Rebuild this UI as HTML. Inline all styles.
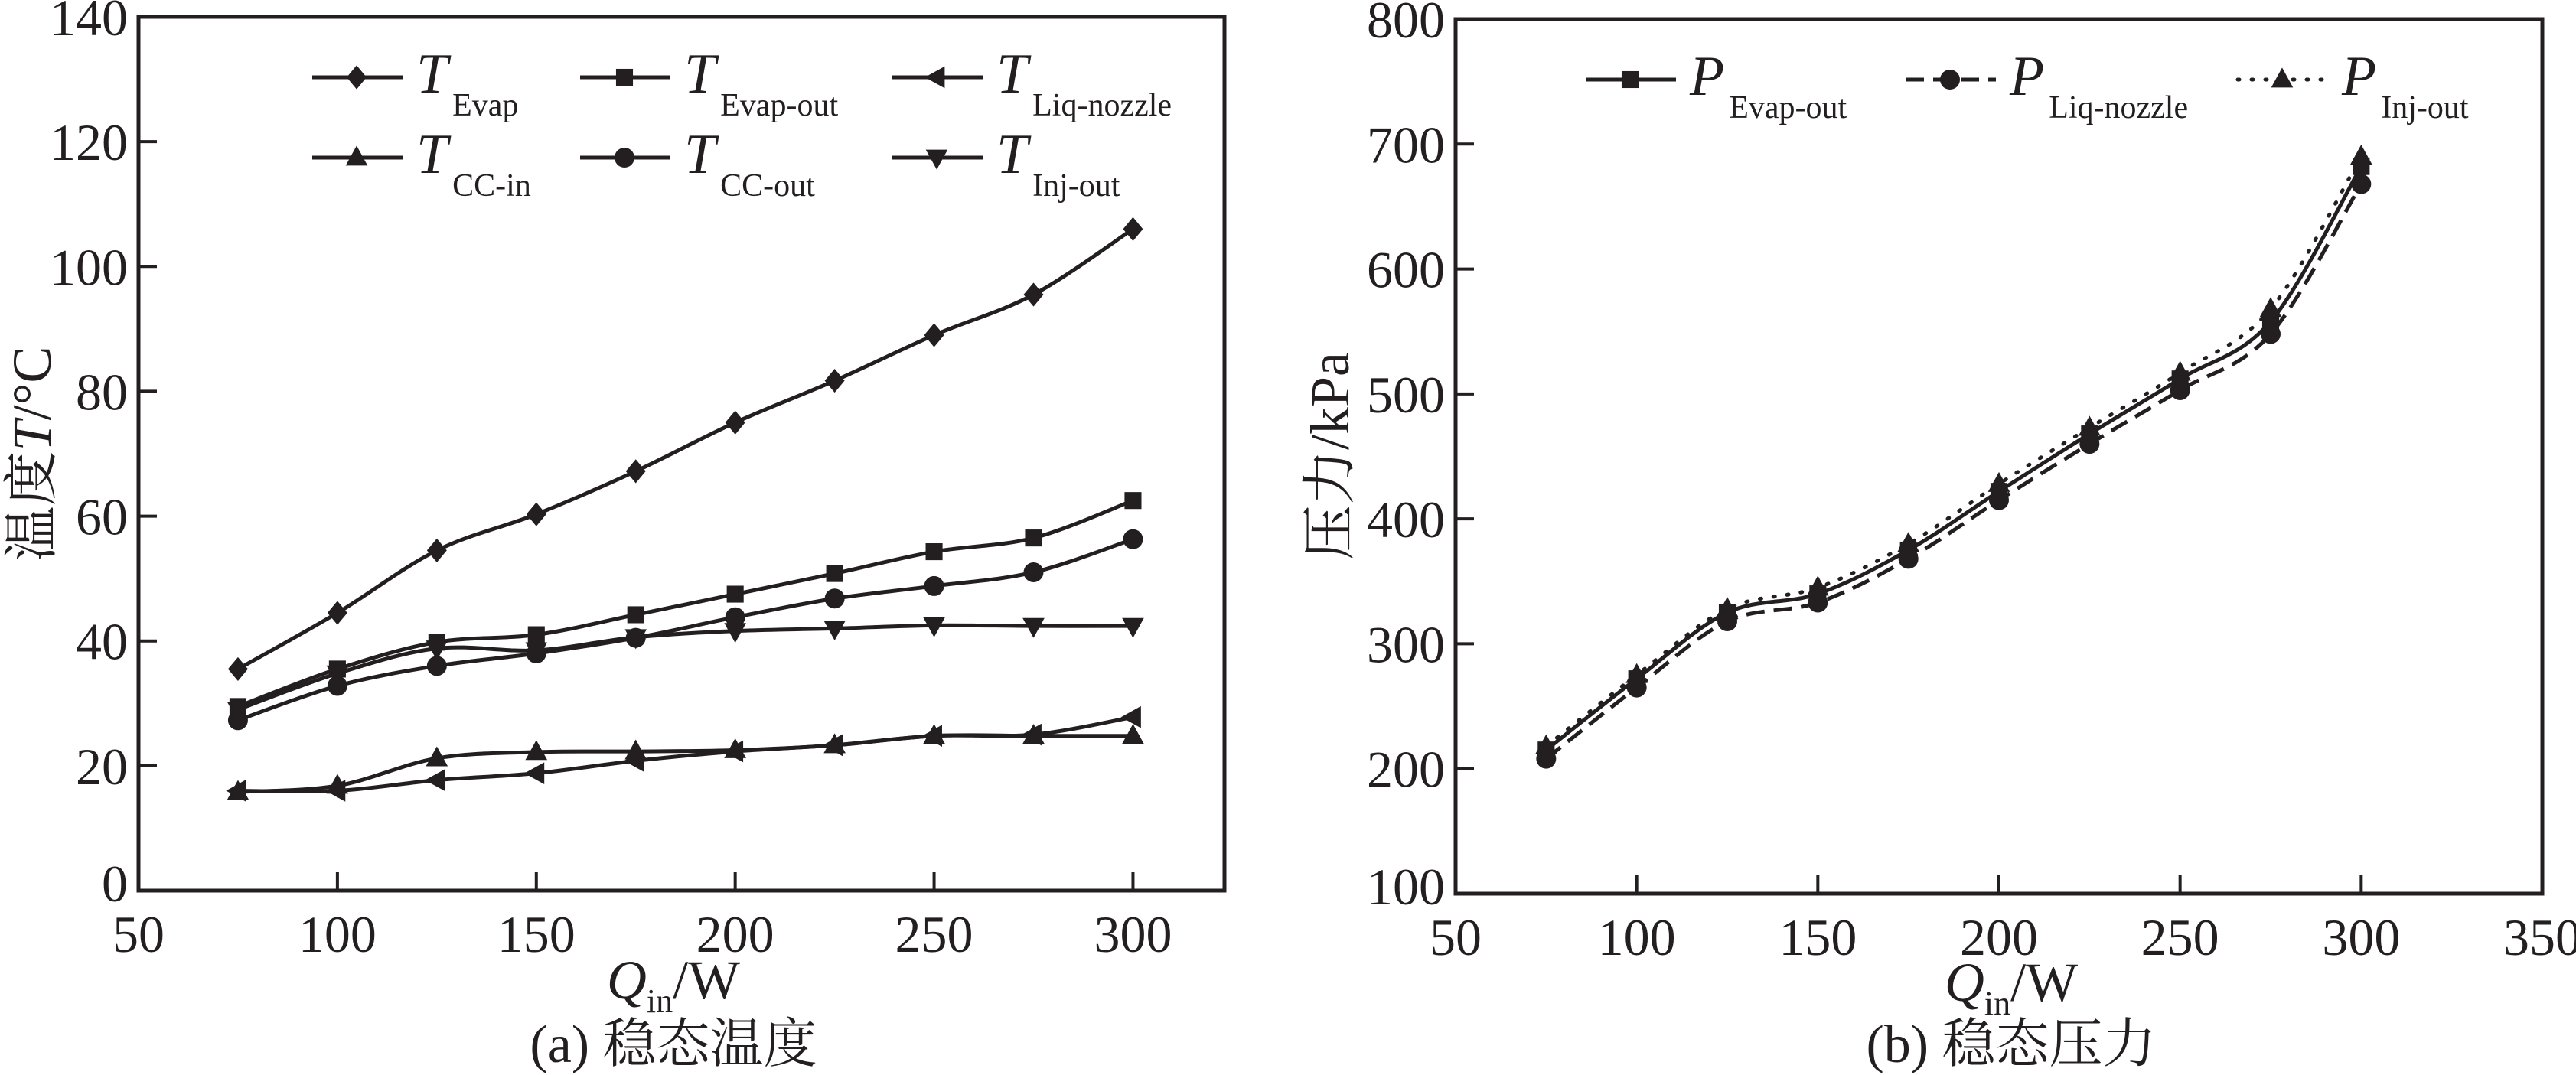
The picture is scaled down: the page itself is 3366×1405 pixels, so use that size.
<!DOCTYPE html>
<html><head><meta charset="utf-8">
<style>
html,body{margin:0;padding:0;background:#fff;}
svg{display:block;}
text{font-family:"Liberation Serif","Times New Roman","DejaVu Serif","Noto Serif CJK SC",serif;fill:#231f20;}
</style></head>
<body>
<svg id="chart" width="3366" height="1405" viewBox="0 0 3366 1405" xmlns="http://www.w3.org/2000/svg" font-family="'Liberation Serif', 'Noto Serif CJK SC', serif"></svg>
<script>
const xValues = [75,100,125,150,175,200,225,250,275,300];
const tEvap = [35.5,44.5,54.5,60.3,67.2,75,81.7,89,95.5,106];
const tEvapOut = [29.5,35.5,39.8,41,44.2,47.5,50.8,54.3,56.5,62.5];
const tLiqNozzle = [16,16,17.7,18.8,20.8,22.3,23.3,24.8,25,27.8];
const tCCin = [15.8,16.8,21.2,22.2,22.3,22.5,23.3,24.8,24.8,24.8];
const tCCout = [27.3,32.8,36,38,40.5,43.8,46.8,48.8,51,56.3];
const tInjOut = [29,34.8,38.8,38.5,40.6,41.6,42,42.5,42.4,42.4];
const pEvapOut = [215,272,325,340,375,422,468,512,558,682];
const pLiqNozzle = [208,265,318,333,368,415,460,503,548,668];
const pInjOut = [218,275,328,345,380,428,473,517,568,690];
const leftXTicks = [50,100,150,200,250,300];
const leftYTicks = [0,20,40,60,80,100,120,140];
const rightXTicks = [50,100,150,200,250,300,350];
const rightYTicks = [100,200,300,400,500,600,700,800];

const NS="http://www.w3.org/2000/svg";
const svg=document.getElementById('chart');
const C="#231f20";
const FF="'Liberation Serif', 'Noto Serif CJK SC', serif";
function mk(tag,attrs,parent){const e=document.createElementNS(NS,tag);for(const k in attrs)e.setAttribute(k,attrs[k]);if(tag==='text')e.setAttribute('font-family',FF);(parent||svg).appendChild(e);return e;}

function smoothPath(pts){
  let d=`M${pts[0][0]},${pts[0][1]}`;
  for(let i=0;i<pts.length-1;i++){
    const p0=pts[i-1]||pts[i],p1=pts[i],p2=pts[i+1],p3=pts[i+2]||p2;
    const t=1/6;
    d+=` C${p1[0]+(p2[0]-p0[0])*t},${p1[1]+(p2[1]-p0[1])*t} ${p2[0]-(p3[0]-p1[0])*t},${p2[1]-(p3[1]-p1[1])*t} ${p2[0]},${p2[1]}`;
  }
  return d;
}
function marker(type,x,y,g){
  const s=13;let e;
  if(type==='diamond')e=mk('polygon',{points:`${x},${y-s*1.2} ${x+s},${y} ${x},${y+s*1.2} ${x-s},${y}`,fill:C},g);
  else if(type==='square')e=mk('rect',{x:x-s*0.85,y:y-s*0.85,width:s*1.7,height:s*1.7,fill:C},g);
  else if(type==='circle')e=mk('circle',{cx:x,cy:y,r:s,fill:C},g);
  else if(type==='up')e=mk('polygon',{points:`${x},${y-s*1.2} ${x+s*1.1},${y+s*0.8} ${x-s*1.1},${y+s*0.8}`,fill:C},g);
  else if(type==='down')e=mk('polygon',{points:`${x},${y+s*1.2} ${x+s*1.1},${y-s*0.8} ${x-s*1.1},${y-s*0.8}`,fill:C},g);
  else if(type==='left')e=mk('polygon',{points:`${x-s*1.2},${y} ${x+s*0.8},${y-s*1.1} ${x+s*0.8},${y+s*1.1}`,fill:C},g);
  
  
}
function panel(cfg){
  const g=mk('g',{});
  
  
  const sx=v=>cfg.L+(v-cfg.x0)/(cfg.x1-cfg.x0)*(cfg.R-cfg.L);
  const sy=v=>cfg.B-(v-cfg.y0)/(cfg.y1-cfg.y0)*(cfg.B-cfg.T);
  const frame=mk('rect',{x:cfg.L,y:cfg.T,width:cfg.R-cfg.L,height:cfg.B-cfg.T,fill:'none',stroke:C,'stroke-width':5},g);
  
  
  cfg.xt.forEach(v=>{
    const x=sx(v);
    if(v!==cfg.x0&&v!==cfg.x1)mk('line',{x1:x,y1:cfg.B,x2:x,y2:cfg.B-24,stroke:C,'stroke-width':4},g);
    const t=mk('text',{x:x,y:cfg.B+80,'font-size':68,'text-anchor':'middle'},g);t.textContent=v;
    
    
  });
  cfg.yt.forEach(v=>{
    const y=sy(v);
    if(v!==cfg.y0&&v!==cfg.y1)mk('line',{x1:cfg.L,y1:y,x2:cfg.L+24,y2:y,stroke:C,'stroke-width':4},g);
    const t=mk('text',{x:cfg.L-14,y:y+(v===cfg.y0?14:24),'font-size':68,'text-anchor':'end'},g);t.textContent=v;
    
    
  });
  cfg.series.forEach(s=>{
    const pts=xValues.map((x,i)=>[sx(x),sy(s.data[i])]);
    const p=mk('path',{d:smoothPath(pts),fill:'none',stroke:C,'stroke-width':5,'stroke-dasharray':s.dash||'none','stroke-linecap':s.cap||'butt'},g);
    
    
    pts.forEach(q=>marker(s.m,q[0],q[1],g));
  });
  cfg.series.forEach(s=>{
    const lg=mk('g',{},g);
    
    
    mk('line',{x1:s.lx,y1:s.ly,x2:s.lx+118,y2:s.ly,stroke:C,'stroke-width':5,'stroke-dasharray':s.dash||'none','stroke-linecap':s.cap||'butt'},lg);
    marker(s.m,s.lx+58,s.ly,lg);
    const t=mk('text',{x:s.lx+136,y:s.ly+20,'font-size':74},lg);
    const a=mk('tspan',{'font-style':'italic'},t);a.textContent=s.sym;
    const b=mk('tspan',{'font-size':42,dy:30,dx:6},t);b.textContent=s.sub;
  });
  return {sx,sy};
}
panel({name:'temperature-panel',L:181,R:1600,T:22,B:1164,x0:50,x1:323,y0:0,y1:140,xt:leftXTicks,yt:leftYTicks,series:[
 {id:'t-evap',data:tEvap,m:'diamond',sym:'T',sub:'Evap',lx:408,ly:101},
 {id:'t-evap-out',data:tEvapOut,m:'square',sym:'T',sub:'Evap-out',lx:758,ly:101},
 {id:'t-liq-nozzle',data:tLiqNozzle,m:'left',sym:'T',sub:'Liq-nozzle',lx:1166,ly:101},
 {id:'t-cc-in',data:tCCin,m:'up',sym:'T',sub:'CC-in',lx:408,ly:206},
 {id:'t-cc-out',data:tCCout,m:'circle',sym:'T',sub:'CC-out',lx:758,ly:206},
 {id:'t-inj-out',data:tInjOut,m:'down',sym:'T',sub:'Inj-out',lx:1166,ly:206}
]});
panel({name:'pressure-panel',L:1902,R:3322,T:25,B:1168,x0:50,x1:350,y0:100,y1:800,xt:rightXTicks,yt:rightYTicks,series:[
 {id:'p-evap-out',data:pEvapOut,m:'square',sym:'P',sub:'Evap-out',lx:2072,ly:104},
 {id:'p-liq-nozzle',data:pLiqNozzle,m:'circle',sym:'P',sub:'Liq-nozzle',lx:2490,ly:104,dash:'24 12'},
 {id:'p-inj-out',data:pInjOut,m:'up',sym:'P',sub:'Inj-out',lx:2924,ly:104,dash:'2 16',cap:'round'}
]});
function label(x,y,html,name,rot,size){
  const t=mk('text',{x:x,y:y,'font-size':size||72,'text-anchor':'middle'});
  if(rot)t.setAttribute('transform',`rotate(-90 ${x} ${y})`);
  t.innerHTML=html;
  
  
}
label(66,593,'温度<tspan font-style="italic">T</tspan>/°C','y-axis-title-left',true);
label(1762,596,'压力/kPa','y-axis-title-right',true);
label(880,1305,'<tspan font-style="italic">Q</tspan><tspan font-size="44" dy="18">in</tspan><tspan dy="-18">/W</tspan>','x-axis-title-left');
label(2628,1308,'<tspan font-style="italic">Q</tspan><tspan font-size="44" dy="18">in</tspan><tspan dy="-18">/W</tspan>','x-axis-title-right');
label(880,1388,'(a) 稳态温度','caption-a',false,70);
label(2628,1388,'(b) 稳态压力','caption-b',false,70);
</script>
</body></html>
